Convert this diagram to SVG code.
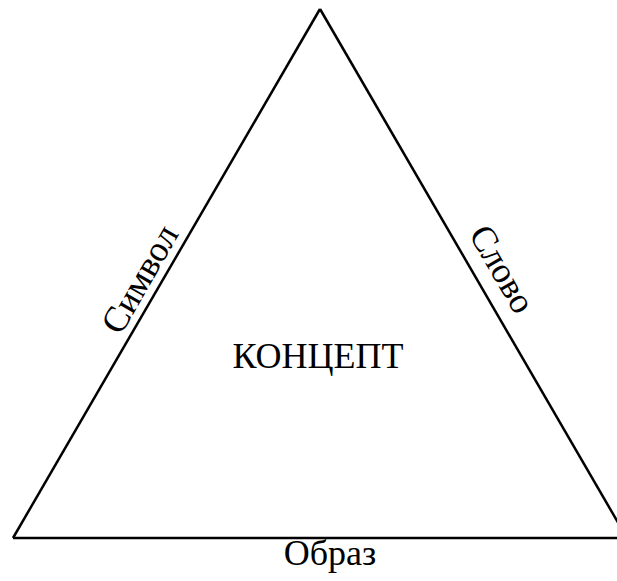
<svg xmlns="http://www.w3.org/2000/svg" width="617" height="581" viewBox="0 0 617 581">
<style>
text{font-family:"Liberation Serif","Times New Roman",serif;font-size:36px;fill:#000;text-anchor:middle}
.edge{stroke:#000;stroke-width:2.5;fill:none}
</style>
<rect width="617" height="581" fill="#fff"/>
<g id="connectors">
<line class="edge" x1="320" y1="9" x2="13" y2="538"/>
<line class="edge" x1="320" y1="9" x2="627" y2="538"/>
<line class="edge" x1="13" y1="538" x2="617" y2="538"/>
</g>
<g id="concept"><text x="318" y="368">КОНЦЕПТ</text></g>
<g id="symbol"><text transform="translate(150,285) rotate(-60)">Символ</text></g>
<g id="word"><text transform="translate(492,275) rotate(60)">Слово</text></g>
<g id="image"><text x="330" y="565">Образ</text></g>
</svg>
